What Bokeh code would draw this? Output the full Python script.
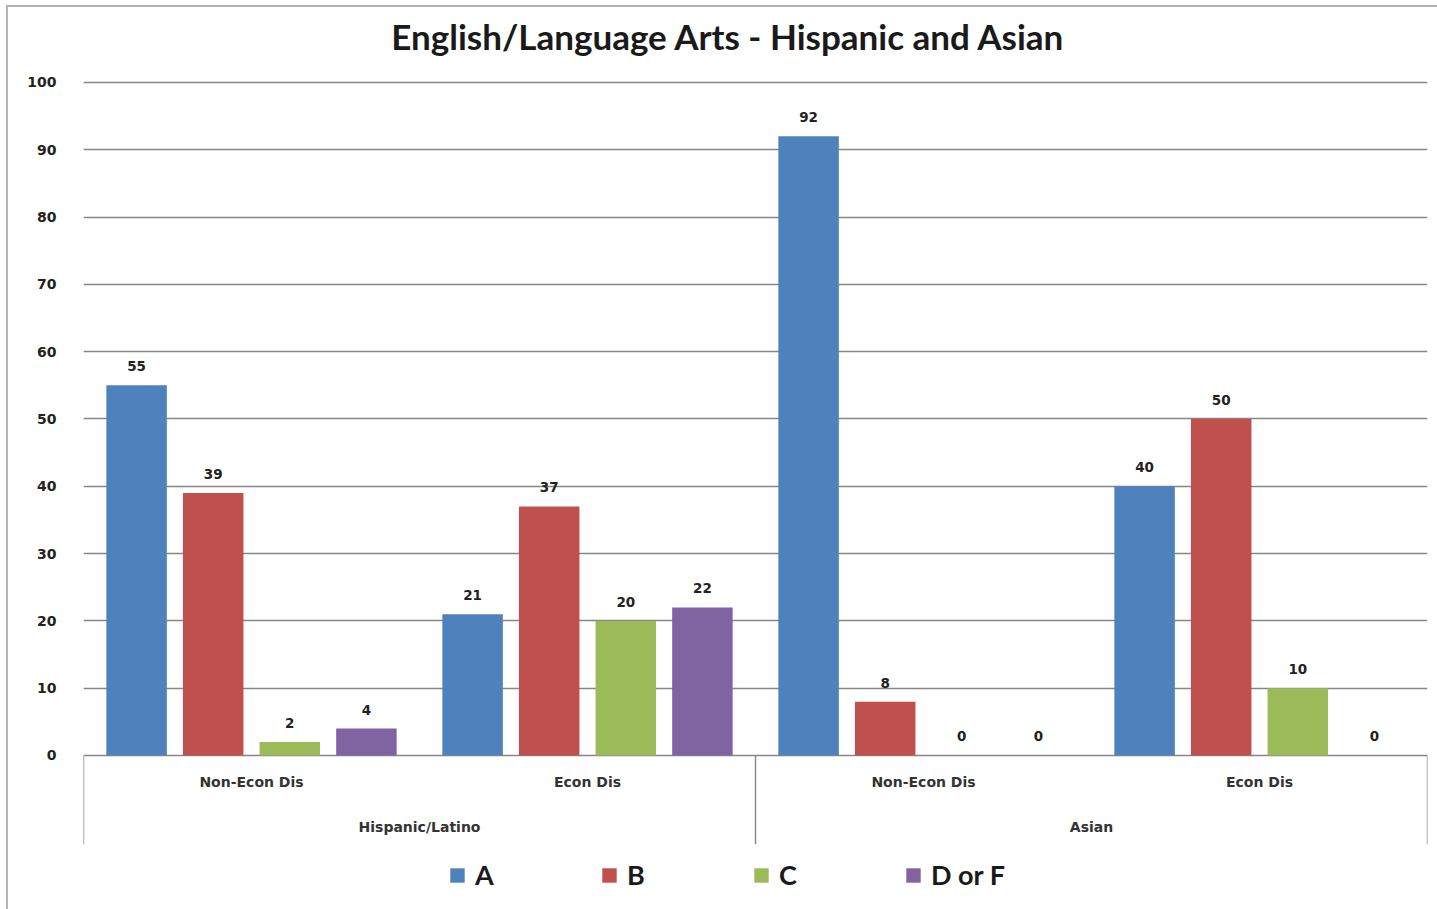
from bokeh.plotting import figure
from bokeh.models import FactorRange, ColumnDataSource, FixedTicker, Legend, LegendItem, Range1d, Label
from bokeh.transform import dodge
from bokeh.core.properties import value
from bokeh.embed import file_html
from bokeh.resources import INLINE

groups = ["Hispanic/Latino", "Asian"]
subgroups = ["Non-Econ Dis", "Econ Dis"]
grades = ["A", "B", "C", "D or F"]
a_vals = [55, 21, 92, 40]
b_vals = [39, 37, 8, 50]
c_vals = [2, 20, 0, 10]
d_vals = [4, 22, 0, 0]
y_ticks = [0, 10, 20, 30, 40, 50, 60, 70, 80, 90, 100]
title_text = "English/Language Arts - Hispanic and Asian"

colors = ["#4F81BD", "#C0504D", "#9BBB59", "#8064A2"]
TFONT = "Lato"
FONT = "DejaVu Sans"
Y_MIN, Y_MAX = -22.29, 112.18

factors = [(g, s) for g in groups for s in subgroups]
series = [a_vals, b_vals, c_vals, d_vals]

p = figure(
    x_range=FactorRange(*factors, factor_padding=0, group_padding=0, range_padding=0),
    y_range=Range1d(Y_MIN, Y_MAX),
    width=1437, height=909,
    output_backend="svg", toolbar_location=None,
    min_border_left=83, min_border_right=10, min_border_top=0, min_border_bottom=4,
)
p.outline_line_color = None
p.background_fill_color = None
p.border_fill_color = None
p.styles = {"box-shadow": "inset 6px 5px 0 0 white, inset 8px 7px 0 0 #b4b4b4",
            "background-color": "white"}

# Title (placed as a label inside the frame area)
p.add_layout(Label(x=645, y=870, x_units="screen", y_units="screen", text=title_text,
                   text_align="center", text_baseline="middle", text_font=TFONT,
                   text_font_size="35px", text_font_style="bold", text_color="#1a1a1a"))

# Axes
p.xaxis.visible = False
p.xgrid.visible = False
p.yaxis.ticker = FixedTicker(ticks=y_ticks)
p.yaxis.axis_line_color = None
p.yaxis.major_tick_line_color = None
p.yaxis.minor_tick_line_color = None
p.yaxis.major_label_standoff = 21
p.yaxis.major_label_text_font = FONT
p.yaxis.major_label_text_font_style = "bold"
p.yaxis.major_label_text_font_size = "14px"
p.yaxis.major_label_text_color = "#222222"
p.ygrid.ticker = FixedTicker(ticks=y_ticks)
p.ygrid.grid_line_color = "#868686"
p.ygrid.grid_line_width = 1.4

offsets = [-0.342, -0.114, 0.114, 0.342]
width = 0.18

legend_items = []
for grade, vals, col, off in zip(grades, series, colors, offsets):
    src = ColumnDataSource(dict(x=factors, top=vals, lbl=[str(v) for v in vals]))
    r = p.vbar(x=dodge("x", off, range=p.x_range), top="top", width=width, source=src,
               fill_color=col, line_color=None)
    p.text(x=dodge("x", off, range=p.x_range), y="top", text="lbl", source=src,
           text_align="center", text_baseline="bottom", y_offset=-14,
           text_font=value(FONT), text_font_style="bold", text_font_size="13.5px",
           text_color="#222222")
    legend_items.append(LegendItem(label=grade, renderers=[r]))

# Separators below baseline (category axis area)
SEP_BOTTOM = -13.2
sep_left = ColumnDataSource(dict(x=[(g, subgroups[0]) for g in groups]))
p.segment(x0=dodge("x", -0.5, range=p.x_range), y0=0, x1=dodge("x", -0.5, range=p.x_range), y1=SEP_BOTTOM,
          source=sep_left, line_color="#868686", line_width=1.4)
sep_right = ColumnDataSource(dict(x=[(groups[-1], subgroups[-1])]))
p.segment(x0=dodge("x", 0.5, range=p.x_range), y0=0, x1=dodge("x", 0.5, range=p.x_range), y1=SEP_BOTTOM,
          source=sep_right, line_color="#868686", line_width=1.4)

# Category labels
sub_src = ColumnDataSource(dict(x=factors, t=[s for g, s in factors]))
p.text(x="x", y=-4.0, text="t", source=sub_src, text_align="center", text_baseline="middle",
       text_font=value(FONT), text_font_style="bold", text_font_size="14px", text_color="#333333")
grp_src = ColumnDataSource(dict(x=groups, t=groups))
p.text(x="x", y=-10.7, text="t", source=grp_src, text_align="center", text_baseline="middle",
       text_font=value(FONT), text_font_style="bold", text_font_size="14px", text_color="#333333")

legend = Legend(items=legend_items, orientation="horizontal", location=(365, 14),
                glyph_width=18, glyph_height=18, label_standoff=9, label_width=109, spacing=16,
                label_text_font=TFONT, label_text_font_style="bold", label_text_font_size="27px",
                label_text_color="#1a1a1a", border_line_color=None, background_fill_alpha=0,
                padding=0, margin=0)
p.add_layout(legend, "center")

open("out.html", "w").write(file_html(p, INLINE))
